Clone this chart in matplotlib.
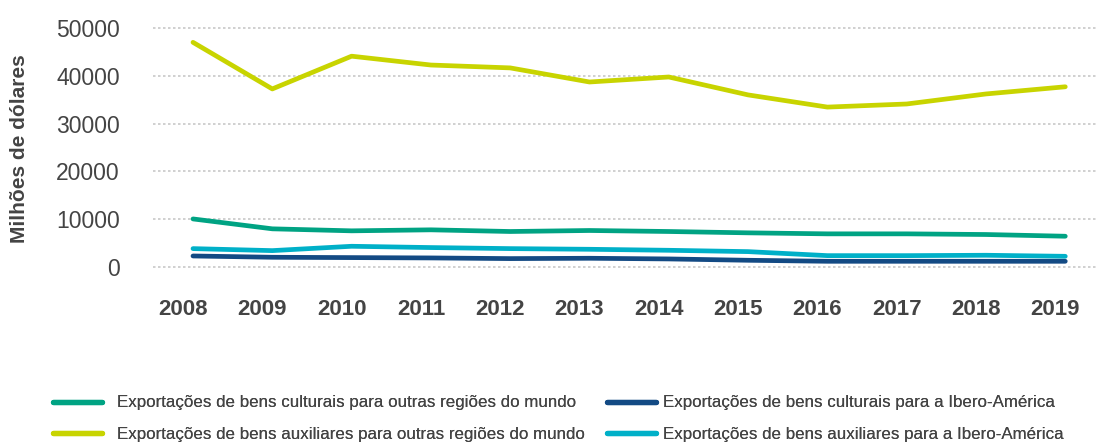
import matplotlib
matplotlib.use("Agg")
import matplotlib.pyplot as plt
import matplotlib.transforms as mtransforms

plt.rcParams['font.family'] = ['Liberation Sans', 'DejaVu Sans']

# Years on the x axis
years = [2008, 2009, 2010, 2011, 2012, 2013, 2014, 2015, 2016, 2017, 2018, 2019]

# Values in millions of dollars
cult_outras = [10050, 7980, 7560, 7770, 7420, 7630, 7420, 7140, 6930, 6930, 6790, 6430]
aux_outras = [47000, 37250, 44100, 42250, 41650, 38700, 39750, 36000, 33450, 34100, 36200, 37700]
cult_ibero = [2300, 2030, 1960, 1890, 1750, 1820, 1680, 1400, 1190, 1190, 1190, 1190]
aux_ibero = [3840, 3420, 4330, 4060, 3840, 3700, 3490, 3210, 2370, 2370, 2450, 2230]

labels = ['Exportações de bens culturais para outras regiões do mundo',
          'Exportações de bens auxiliares para outras regiões do mundo',
          'Exportações de bens culturais para a Ibero-América',
          'Exportações de bens auxiliares para a Ibero-América']
colors = ['#00a383', '#c8d400', '#134a84', '#00b0c8']

fig = plt.figure(figsize=(10.97, 4.43), dpi=100)
ax = fig.add_axes([0.1395, 0.365, 0.8605, 0.588])

series = [cult_outras, aux_outras, cult_ibero, aux_ibero]
# draw order: keep the light blue under the navy line
order = [1, 0, 3, 2]
handles = [None] * 4
for i in order:
    h, = ax.plot(years, series[i], color=colors[i], lw=3.4,
                 solid_capstyle='round', solid_joinstyle='round', label=labels[i])
    handles[i] = h

ax.set_xlim(2007.496, 2019.4)
ax.set_ylim(-3000, 51500)
ax.set_yticks([0, 10000, 20000, 30000, 40000, 50000])
ax.set_xticks(years)
ax.grid(axis='y', color='#c8c8c8', linestyle=(0, (1.5, 1.5)), lw=1.2)
ax.set_axisbelow(True)
for s in ax.spines.values():
    s.set_visible(False)
ax.tick_params(axis='both', length=0)
ax.tick_params(axis='y', labelsize=16.5, labelcolor='#444444', pad=24)
ax.tick_params(axis='x', labelsize=16, labelcolor='#444444', pad=13)
shift = mtransforms.ScaledTranslation(-0.10, 0, fig.dpi_scale_trans)
for t in ax.get_xticklabels():
    t.set_fontweight('bold')
    t.set_transform(t.get_transform() + shift)

fig.text(20 / 1097, 1 - 148.5 / 443, 'Milhões de dólares', rotation=90,
         ha='center', va='center', fontsize=15, fontweight='bold', color='#444444')

# two legend columns, placed separately
leg_y = 1 - 418.5 / 443
for cols, x0, tpad in [((0, 1), 53, 0.83), ((2, 3), 607, 0.41)]:
    leg = fig.legend(handles=[handles[c] for c in cols],
                     labels=[labels[c] for c in cols], loc='center left',
                     bbox_to_anchor=(x0 / 1097, leg_y), frameon=False,
                     fontsize=12.2, handlelength=2.92, handletextpad=tpad,
                     labelspacing=0.95, borderpad=0, borderaxespad=0)
    for l in leg.get_lines():
        l.set_linewidth(3.8)
    for t in leg.get_texts():
        t.set_color('#444444')
    fig.add_artist(leg)

fig.savefig('out.png', dpi=100)
